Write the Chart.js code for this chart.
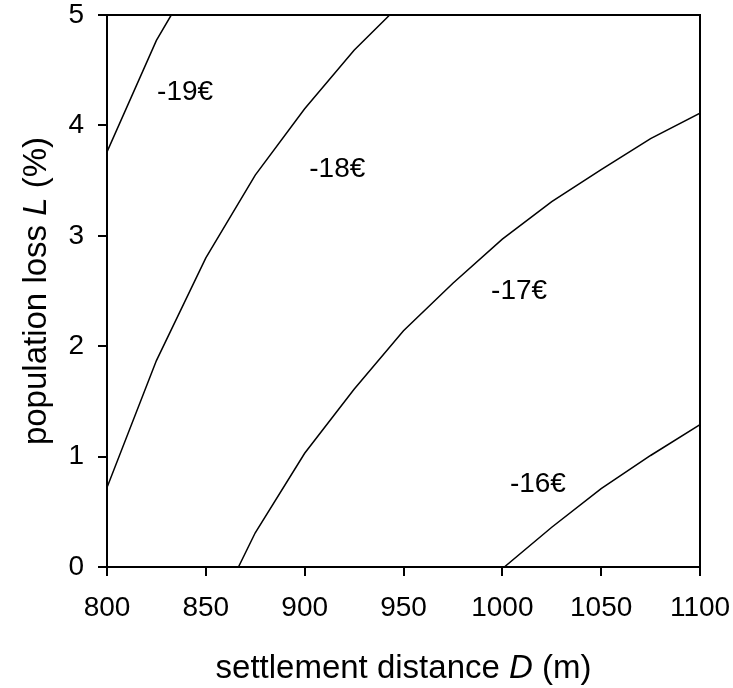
<!DOCTYPE html>
<html>
<head>
<meta charset="utf-8">
<script src="https://cdn.jsdelivr.net/npm/chart.js@4/dist/chart.umd.min.js"></script>
<style>
html,body{margin:0;padding:0;background:#fff;}
canvas{display:block;}
</style>
</head>
<body>
<canvas id="c" width="733" height="688"></canvas>
<script>
// ---- data ----
const xTicks = [800, 850, 900, 950, 1000, 1050, 1100];
const yTicks = [0, 1, 2, 3, 4, 5];

const levels = ["-19€", "-18€", "-17€", "-16€"];

const curve19D = [800, 825, 832.5];
const curve19L = [3.76, 4.77, 5];

const curve18D = [800, 825, 850, 875, 900, 925, 943];
const curve18L = [0.72, 1.87, 2.80, 3.55, 4.15, 4.68, 5];

const curve17D = [866.5, 875, 900, 925, 950, 975, 1000, 1025, 1050, 1075, 1100];
const curve17L = [0, 0.31, 1.03, 1.61, 2.14, 2.57, 2.97, 3.31, 3.60, 3.88, 4.11];

const curve16D = [1001, 1025, 1050, 1075, 1100];
const curve16L = [0, 0.36, 0.71, 1.01, 1.29];

const labelD = [839.5, 916.5, 1008.5, 1018];
const labelL = [4.30, 3.60, 2.50, 0.75];

const FONT = "'Liberation Sans', Arial, sans-serif";

function pts(ds, ls){ return ds.map((d,i)=>({x:d, y:ls[i]})); }

const curves = [[curve19D,curve19L],[curve18D,curve18L],[curve17D,curve17L],[curve16D,curve16L]];

const datasets = curves.map((c,i)=>({
  label: levels[i],
  data: pts(c[0], c[1]),
  showLine: true,
  borderColor: '#000',
  borderWidth: 1.5,
  pointRadius: 0,
  tension: 0,
  fill: false
}));

const framePlugin = {
  id: 'frame',
  afterDatasetsDraw(chart){
    const {ctx, chartArea:a} = chart;
    ctx.save();
    ctx.strokeStyle = '#000';
    ctx.lineWidth = 2;
    ctx.strokeRect(a.left, a.top, a.right - a.left, a.bottom - a.top);
    ctx.restore();
  }
};

const labelPlugin = {
  id: 'contourLabels',
  afterDatasetsDraw(chart){
    const {ctx, scales} = chart;
    ctx.save();
    ctx.fillStyle = '#000';
    ctx.font = '28px ' + FONT;
    ctx.textAlign = 'center';
    ctx.textBaseline = 'middle';
    levels.forEach((t,i)=>{
      ctx.fillText(t, scales.x.getPixelForValue(labelD[i]), scales.y.getPixelForValue(labelL[i]));
    });
    ctx.restore();
  }
};

function drawMixed(ctx, segs, cx, cy){
  let total = 0;
  segs.forEach(s=>{ ctx.font = s[1]; total += ctx.measureText(s[0]).width; });
  let x = cx - total/2;
  ctx.textAlign = 'left';
  ctx.textBaseline = 'alphabetic';
  segs.forEach(s=>{ ctx.font = s[1]; ctx.fillText(s[0], x, cy); x += ctx.measureText(s[0]).width; });
}

const titlePlugin = {
  id: 'titles',
  afterDraw(chart){
    const {ctx, chartArea:a} = chart;
    const n = '33px ' + FONT, it = 'italic 33px ' + FONT;
    ctx.save();
    ctx.fillStyle = '#000';
    drawMixed(ctx, [["settlement distance ", n], ["D", it], [" (m)", n]], (a.left + a.right)/2, 678);
    ctx.translate(46, (a.top + a.bottom)/2);
    ctx.rotate(-Math.PI/2);
    drawMixed(ctx, [["population loss ", n], ["L", it], [" (%)", n]], 0, 0);
    ctx.restore();
  }
};

function zeroPad(s){ s.paddingLeft = 0; s.paddingRight = 0; s.paddingTop = 0; s.paddingBottom = 0; }

new Chart(document.getElementById('c'), {
  type: 'scatter',
  data: { datasets },
  options: {
    responsive: false,
    animation: false,
    events: [],
    layout: { padding: { top: 15, right: 33, left: 0, bottom: 0 } },
    plugins: { legend: { display: false }, tooltip: { enabled: false } },
    scales: {
      x: {
        type: 'linear', min: 800, max: 1100,
        afterBuildTicks(s){ s.ticks = xTicks.map(v=>({value:v})); },
        afterFit(s){ s.height = 121; zeroPad(s); },
        grid: { drawOnChartArea: false, drawTicks: true, tickLength: 9, color: '#000', lineWidth: 2 },
        border: { display: true, color: '#000', width: 2 },
        ticks: { color: '#000', font: { family: FONT, size: 28 }, padding: 15, maxRotation: 0,
                 callback: v => String(v) }
      },
      y: {
        type: 'linear', min: 0, max: 5,
        afterBuildTicks(s){ s.ticks = yTicks.map(v=>({value:v})); },
        afterFit(s){ s.width = 107; zeroPad(s); },
        grid: { drawOnChartArea: false, drawTicks: true, tickLength: 9, color: '#000', lineWidth: 2 },
        border: { display: true, color: '#000', width: 2 },
        ticks: { color: '#000', font: { family: FONT, size: 28 }, padding: 14,
                 callback: v => String(v) }
      }
    }
  },
  plugins: [framePlugin, labelPlugin, titlePlugin]
});
</script>
</body>
</html>
